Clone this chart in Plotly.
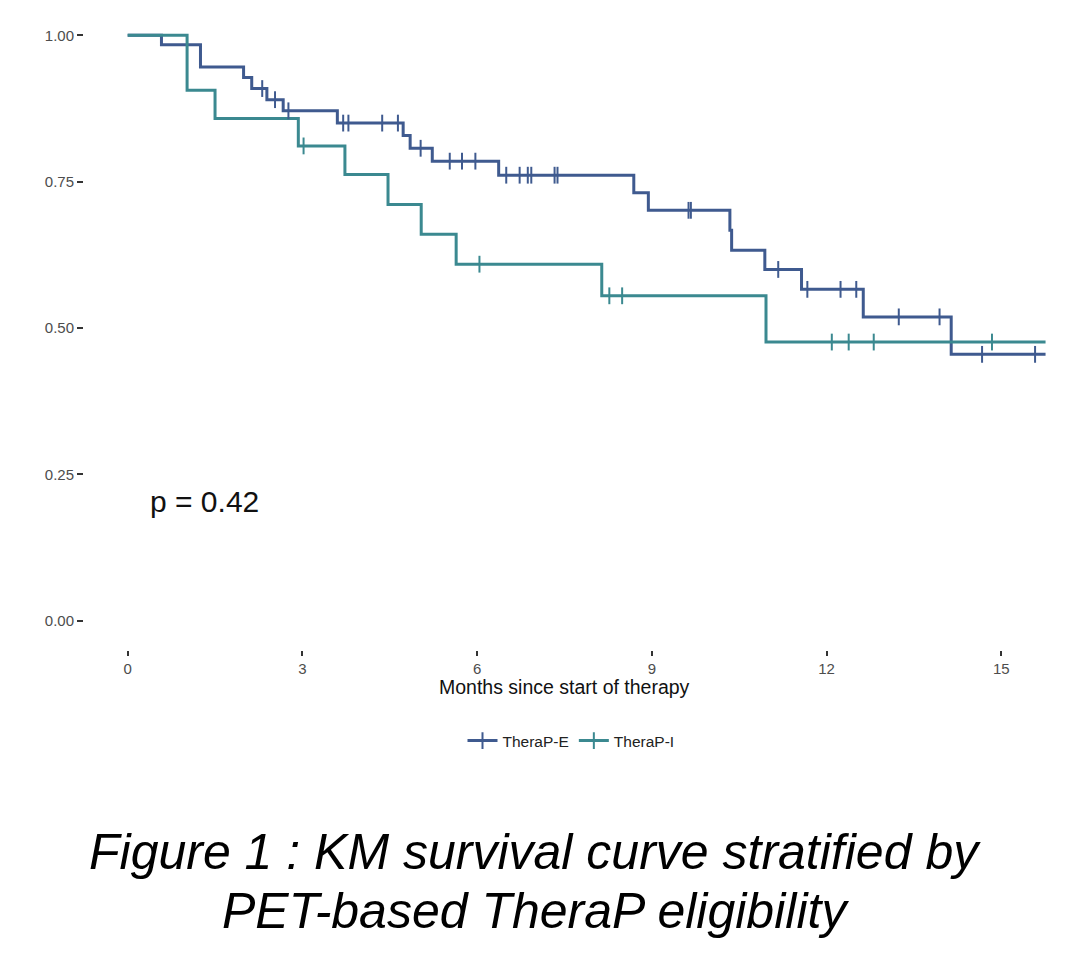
import plotly.graph_objects as go

# ---- data ----
# TheraP-E (blue): step times (months) and survival after each step
e_times = [0.0, 0.58, 1.25, 1.99, 2.13, 2.39, 2.67, 3.60, 4.73, 4.85, 5.23, 6.37,
           8.69, 8.94, 10.34, 10.37, 10.94, 11.57, 12.63, 14.14]
e_surv = [1.000, 0.984, 0.946, 0.928, 0.909, 0.890, 0.871, 0.850, 0.829, 0.807,
          0.785, 0.761, 0.731, 0.701, 0.667, 0.633, 0.600, 0.566, 0.519, 0.455]
e_end = 15.76
e_censor = [2.31, 2.53, 2.76, 3.70, 3.79, 4.37, 4.64, 5.03, 5.53, 5.74, 5.97, 6.50,
            6.73, 6.87, 6.93, 7.33, 7.38, 9.63, 9.67, 11.17, 11.67, 12.24, 12.51,
            13.24, 13.94, 14.67, 15.58]

# TheraP-I (teal)
i_times = [0.0, 1.02, 1.50, 2.93, 3.73, 4.47, 5.04, 5.64, 8.14, 10.96]
i_surv = [1.000, 0.906, 0.858, 0.811, 0.762, 0.711, 0.660, 0.609, 0.555, 0.476]
i_end = 15.76
i_censor = [3.02, 6.04, 8.27, 8.49, 12.09, 12.38, 12.81, 14.84]

groups = ["TheraP-E", "TheraP-I"]
colors = ["#3F5A8F", "#3B8990"]
x_ticks = [0, 3, 6, 9, 12, 15]
y_ticks = [0.0, 0.25, 0.5, 0.75, 1.0]
y_ticklabels = ["0.00", "0.25", "0.50", "0.75", "1.00"]
p_text = "p = 0.42"
x_title = "Months since start of therapy"
caption = ["Figure 1 : KM survival curve stratified by", "PET-based TheraP eligibility"]


def surv_at(t, times, surv):
    s = surv[0]
    for tt, ss in zip(times, surv):
        if tt <= t:
            s = ss
    return s


fig = go.Figure()
series = [(e_times, e_surv, e_end, e_censor), (i_times, i_surv, i_end, i_censor)]
for (times, surv, end, cens), name, col in zip(series, groups, colors):
    fig.add_trace(go.Scatter(
        x=list(times) + [end], y=list(surv) + [surv[-1]],
        mode="lines", line=dict(color=col, width=3, shape="hv"),
        showlegend=False, hoverinfo="skip"))
for (times, surv, end, cens), name, col in zip(series, groups, colors):
    fig.add_trace(go.Scatter(
        x=cens, y=[surv_at(c, times, surv) for c in cens],
        mode="markers",
        marker=dict(symbol="line-ns", size=12, line=dict(color=col, width=2)),
        showlegend=False))
for name, col in zip(groups, colors):
    fig.add_trace(go.Scatter(
        x=[None], y=[None], name=name, mode="lines+markers",
        line=dict(color=col, width=3),
        marker=dict(symbol="line-ns", size=12, line=dict(color=col, width=2))))

W, H = 1078, 958
ml, mr, mt, mb = 84, 1, 6, 308
ph = H - mt - mb
FONT = "Liberation Sans, Arial"


def ypaper(px):
    return (H - mb - px) / ph


def xpaper(px):
    return (px - ml) / (W - ml - mr)


fig.add_annotation(x=0.35, y=0.203, xref="x", yref="y", text=p_text,
                   showarrow=False, xanchor="left", yanchor="middle",
                   font=dict(size=30, color="#111111", family=FONT))
fig.add_annotation(x=xpaper(564), y=ypaper(687), xref="paper", yref="paper",
                   text=x_title, showarrow=False, xanchor="center", yanchor="middle",
                   font=dict(size=19.5, color="#111111", family=FONT))
for line_text, py in zip(caption, [852, 911]):
    fig.add_annotation(x=xpaper(535), y=ypaper(py), xref="paper", yref="paper",
                       text="<i>" + line_text + "</i>", showarrow=False,
                       xanchor="center", yanchor="middle",
                       font=dict(size=50, color="#000000", family=FONT))

fig.update_layout(
    width=W, height=H,
    margin=dict(l=ml, r=mr, t=mt, b=mb),
    paper_bgcolor="white", plot_bgcolor="white",
    font=dict(family=FONT, color="#4D4D4D", size=14),
    legend=dict(orientation="h", x=xpaper(571), y=ypaper(741),
                xanchor="center", yanchor="middle", font=dict(size=15.5, color="#222222"),
                itemwidth=30),
    xaxis=dict(range=[-0.75, 16.3], tickvals=x_ticks, showgrid=False, zeroline=False,
               showline=False, ticks="outside", ticklen=5, tickwidth=1.5, tickcolor="#333333",
               tickfont=dict(size=15, color="#4D4D4D")),
    yaxis=dict(range=[-0.05, 1.05], tickvals=y_ticks, ticktext=y_ticklabels, showgrid=False,
               zeroline=False, showline=False, ticks="outside", ticklen=6, tickwidth=1.5,
               tickcolor="#333333", tickfont=dict(size=15, color="#4D4D4D")),
)

fig.write_html("out.html")
